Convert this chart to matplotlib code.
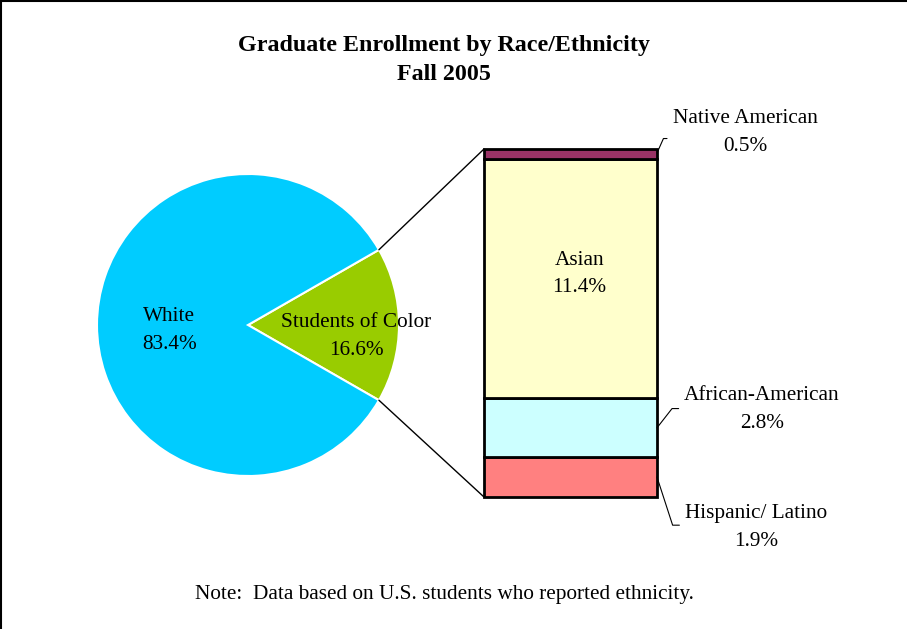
import matplotlib.pyplot as plt
from matplotlib.patches import ConnectionPatch
from matplotlib.lines import Line2D
import numpy as np

plt.rcParams['font.family'] = ['Liberation Serif', 'DejaVu Serif']

# Data
pie_labels = ['White', 'Students of Color']
pie_values = [83.4, 16.6]
pie_colors = ['#00CCFF', '#99CC00']

bar_labels = ['Hispanic/ Latino', 'African-American', 'Asian', 'Native American']
bar_values = [1.9, 2.8, 11.4, 0.5]
bar_colors = ['#FF8080', '#CCFFFF', '#FFFFCC', '#993366']

W, H = 907, 629
FS = 15.3
LS = 1.6
fig = plt.figure(figsize=(W / 100, H / 100), dpi=100)


def fig_box(x0, y0, x1, y1):
    # pixel box (top-left origin) -> figure fraction rect
    return [x0 / W, 1 - y1 / H, (x1 - x0) / W, (y1 - y0) / H]


# Pie
cx, cy, r = 248, 325, 151
ax_pie = fig.add_axes(fig_box(cx - r * 1.05, cy - r * 1.05, cx + r * 1.05, cy + r * 1.05))
half = pie_values[1] / 100 * 180
wedges, _ = ax_pie.pie(pie_values[::-1], colors=pie_colors[::-1], startangle=-half,
                       counterclock=True, radius=1,
                       wedgeprops=dict(edgecolor='white', linewidth=1.5))
ax_pie.set_xlim(-1.05, 1.05)
ax_pie.set_ylim(-1.05, 1.05)
ax_pie.set_aspect('equal')
ax_pie.axis('off')

ax_pie.text(-0.52, -0.037, f'{pie_labels[0]}\n{pie_values[0]}%', ha='center', va='center',
            fontsize=FS, linespacing=LS)
ax_pie.text(0.715, -0.077, f'{pie_labels[1]}\n{pie_values[1]}%', ha='center', va='center',
            fontsize=FS, linespacing=LS)

# Stacked bar
ax_bar = fig.add_axes(fig_box(484, 149, 657, 497))
bottom = 0
mids = []
for v, c in zip(bar_values, bar_colors):
    ax_bar.bar(0, v, bottom=bottom, width=1, color=c, edgecolor='black', linewidth=2,
               clip_on=False)
    mids.append(bottom + v / 2)
    bottom += v
total = bottom
ax_bar.set_xlim(-0.5, 0.5)
ax_bar.set_ylim(0, total)
ax_bar.axis('off')

ax_bar.text(0.05, mids[2] + 0.25, f'{bar_labels[2]}\n{bar_values[2]}%', ha='center',
            va='center', fontsize=FS, linespacing=LS)

# Connector lines pie -> bar
th = np.deg2rad(half)
for sgn, yb in [(1, total), (-1, 0)]:
    con = ConnectionPatch(xyA=(np.cos(th), sgn * np.sin(th)), coordsA=ax_pie.transData,
                          xyB=(-0.5, yb), coordsB=ax_bar.transData,
                          color='black', linewidth=1)
    fig.add_artist(con)

# Outside labels with leader lines
outside = [
    (3, (745, 132.5), (0.5, total - 0.19), 66, 0.37),
    (1, (762, 409.5), (0.5, mids[1]), 52, 0.52),
    (0, (756, 527.5), (0.5, mids[0]), -72, 0.55),
]
for i, (tx, ty), xy, ang, rel in outside:
    ax_bar.annotate(f'{bar_labels[i]}\n{bar_values[i]}%', xy=xy, xycoords='data',
                    xytext=(tx, H - ty), textcoords='figure pixels',
                    ha='center', va='center', fontsize=FS, linespacing=LS,
                    arrowprops=dict(arrowstyle='-', color='black', linewidth=0.8,
                                    shrinkA=2, shrinkB=0, relpos=(0, rel),
                                    connectionstyle=f'angle,angleA=0,angleB={ang},rad=0'))

# Title and note
fig.text(444 / W, 1 - 45 / H, 'Graduate Enrollment by Race/Ethnicity', ha='center', va='center',
         fontsize=17.3, fontweight='bold')
fig.text(444 / W, 1 - 74 / H, 'Fall 2005', ha='center', va='center',
         fontsize=17.3, fontweight='bold')
fig.text(444 / W, 1 - 595 / H, 'Note:  Data based on U.S. students who reported ethnicity.',
         ha='center', va='center', fontsize=FS)

# Frame (left and top edges)
fig.add_artist(Line2D([1 / W, 1 / W], [0, 1], color='black', linewidth=1.5))
fig.add_artist(Line2D([0, 1], [1 - 1 / H, 1 - 1 / H], color='black', linewidth=1.5))

fig.savefig('out.png', dpi=100)
